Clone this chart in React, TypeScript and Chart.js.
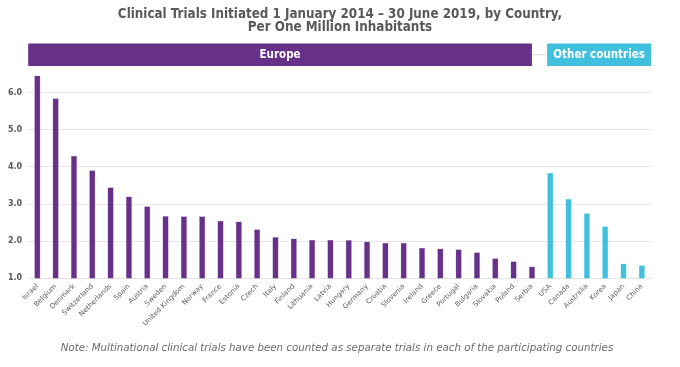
import React, { useEffect, useRef } from "react";
import { Chart, registerables } from "chart.js";

Chart.register(...registerables);

const europeCountries = [
  "Israel", "Belgium", "Denmark", "Switzerland", "Netherlands", "Spain", "Austria",
  "Sweden", "United Kingdom", "Norway", "France", "Estonia", "Czech", "Italy",
  "Finland", "Lithuania", "Latvia", "Hungary", "Germany", "Croatia", "Slovenia",
  "Ireland", "Greece", "Portugal", "Bulgaria", "Slovakia", "Poland", "Serbia",
];
const europeValues = [
  6.46, 5.85, 4.30, 3.91, 3.45, 3.20, 2.94, 2.68, 2.67, 2.67, 2.55, 2.53, 2.32, 2.11,
  2.07, 2.04, 2.04, 2.03, 1.99, 1.96, 1.96, 1.82, 1.80, 1.78, 1.70, 1.54, 1.46, 1.32,
];
const otherCountries = ["USA", "Canada", "Australia", "Korea", "Japan", "China"];
const otherValues = [3.84, 3.14, 2.75, 2.40, 1.40, 1.35];

const titleLines = [
  "Clinical Trials Initiated 1 January 2014 \u2013 30 June 2019, by Country,",
  "Per One Million Inhabitants",
];
const noteText =
  "Note: Multinational clinical trials have been counted as separate trials in each of the participating countries";
const groupLabels = ["Europe", "Other countries"];

const PURPLE = "#673189";
const CYAN = "#40c0de";

export default function App() {
  const ref = useRef<HTMLCanvasElement | null>(null);

  useEffect(() => {
    const labels = [...europeCountries, ...otherCountries];
    const values = [...europeValues, ...otherValues];
    const colors = labels.map((_, i) => (i < europeCountries.length ? PURPLE : CYAN));

    const textPlugin = {
      id: "texts",
      afterDraw(chart: any) {
        const { ctx, width } = chart;
        ctx.save();
        ctx.textAlign = "center";
        ctx.textBaseline = "middle";
        ctx.fillStyle = "#595959";
        ctx.font = "bold 13.3px 'DejaVu Sans Condensed', 'DejaVu Sans', sans-serif";
        ctx.fillText(titleLines[0], width / 2, 15);
        ctx.fillText(titleLines[1], width / 2, 28);
        ctx.fillStyle = "#6b6b6b";
        ctx.font = "italic 10.25px 'DejaVu Sans', sans-serif";
        ctx.fillText(noteText, width / 2 - 3, 348);
        ctx.restore();
      },
    };

    const bannerPlugin = {
      id: "banners",
      afterDraw(chart: any) {
        const { ctx, chartArea } = chart;
        const xs = chart.scales.x;
        const nE = europeCountries.length;
        const half = (xs.getPixelForValue(1) - xs.getPixelForValue(0)) * 0.17;
        const top = 43.5;
        const h = 22.5;
        const eL = chartArea.left;
        const eR = xs.getPixelForValue(nE - 1);
        const oL = xs.getPixelForValue(nE) - half;
        const oR = chartArea.right;
        ctx.save();
        ctx.strokeStyle = "#d9d9d9";
        ctx.lineWidth = 1;
        ctx.beginPath();
        ctx.moveTo(eR, top + h / 2);
        ctx.lineTo(oL, top + h / 2);
        ctx.stroke();
        ctx.fillStyle = PURPLE;
        ctx.fillRect(eL, top, eR - eL, h);
        ctx.fillStyle = CYAN;
        ctx.fillRect(oL, top, oR - oL, h);
        ctx.fillStyle = "#ffffff";
        ctx.font = "bold 11.5px 'DejaVu Sans Condensed', 'DejaVu Sans', sans-serif";
        ctx.textAlign = "center";
        ctx.textBaseline = "middle";
        ctx.fillText(groupLabels[0], (eL + eR) / 2, top + h / 2 + 0.5);
        ctx.fillText(groupLabels[1], (oL + oR) / 2, top + h / 2 + 0.5);
        ctx.restore();
      },
    };

    const chart = new Chart(ref.current as HTMLCanvasElement, {
      type: "bar",
      data: {
        labels,
        datasets: [
          {
            data: values,
            backgroundColor: colors,
            borderColor: colors.map((c) => (c === PURPLE ? "#b89ad0" : "#9fe0ef")),
            borderWidth: 0.5,
            barPercentage: 0.34,
            categoryPercentage: 1,
          },
        ],
      },
      options: {
        animation: false,
        responsive: true,
        maintainAspectRatio: false,
        layout: { padding: { left: 2, right: 29, top: 74, bottom: 35 } },
        plugins: {
          legend: { display: false },
          tooltip: { enabled: false },
          title: { display: false },
        },
        scales: {
          x: {
            grid: { display: false, drawTicks: false },
            border: { display: true, color: "#e3e3e3" },
            ticks: {
              color: "#595959",
              font: { family: "'DejaVu Sans', sans-serif", size: 7 },
              minRotation: 45,
              maxRotation: 45,
              autoSkip: false,
              padding: 4,
            },
          },
          y: {
            min: 1,
            max: 6.5,
            grid: { color: "#e6e6e6", drawTicks: false },
            border: { display: false },
            afterBuildTicks(axis: any) {
              axis.ticks = [1, 2, 3, 4, 5, 6].map((v) => ({ value: v }));
            },
            ticks: {
              color: "#595959",
              font: { family: "'DejaVu Sans', sans-serif", size: 8, weight: "bold" },
              padding: 6,
              callback: (v: any) => Number(v).toFixed(1),
            },
          },
        },
      },
      plugins: [bannerPlugin, textPlugin],
    });
    return () => chart.destroy();
  }, []);

  return (
    <div style={{ position: "fixed", left: 0, top: 0, width: 680, height: 367, background: "#fff" }}>
      <canvas ref={ref} />
    </div>
  );
}
